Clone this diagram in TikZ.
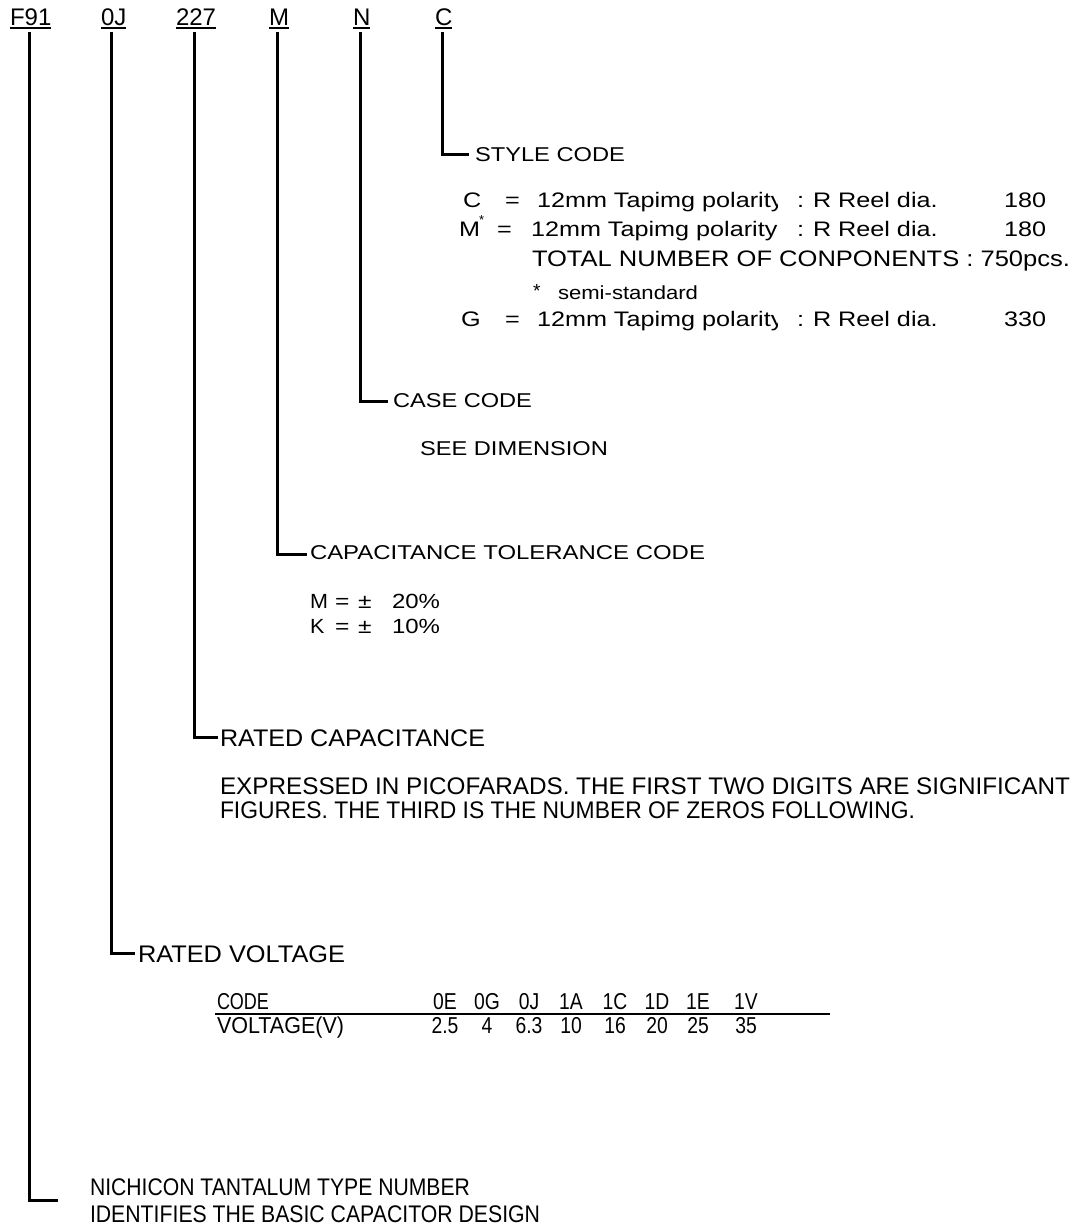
\documentclass[tikz,border=0pt]{standalone}
\usepackage{fontspec}
\setmainfont{Liberation Sans}
\usepackage{graphicx}
\newlength\fitlen
\newcommand\fitx[2]{\settowidth{\fitlen}{#2}\pgfmathsetmacro\fitr{#1/\fitlen}\scalebox{\fitr}[1]{#2}}
\newcommand\sx[1]{\scalebox{1.2}[1]{#1}}
\begin{document}
\begin{tikzpicture}[x=1pt,y=-1pt,
  conn/.style={line width=3pt},
  uline/.style={line width=1.5pt},
  txt/.style={anchor=base west,inner sep=0pt,outer sep=0pt},
  toplab/.style={txt,font=\fontsize{24}{28}\selectfont},
  fa/.style={txt,font=\fontsize{20}{24}\selectfont},
  fm/.style={txt,font=\fontsize{20.5}{24}\selectfont},
  fs/.style={txt,font=\fontsize{19}{23}\selectfont},
  fr/.style={txt,font=\fontsize{21}{25}\selectfont},
  fb/.style={txt,font=\fontsize{24}{28}\selectfont},
  fc/.style={anchor=base,inner sep=0pt,outer sep=0pt,font=\fontsize{23}{27}\selectfont}]
\useasboundingbox[fill=white] (0,0) rectangle (1078,1232);

% top code labels
\node[toplab] (lF) at (10,25) {F91};
\node[toplab] (lJ) at (101,25) {0J};
\node[toplab] (lC) at (176,25) {227};
\node[toplab] (lM) at (269,25) {M};
\node[toplab] (lN) at (353,25) {N};
\node[toplab] (lS) at (435,25) {C};
\foreach \n in {lF,lJ,lC,lM,lN,lS}{
  \draw[uline] ([yshift=-3pt]\n.base west) -- ([yshift=-3pt]\n.base east);
}

% connector ends
\coordinate (eS) at (469,154);
\coordinate (eN) at (388,401);
\coordinate (eM) at (307,554);
\coordinate (eC) at (218,737);
\coordinate (eJ) at (135,953);
\coordinate (eF) at (58,1200);

\draw[conn] ([xshift=-1pt,yshift=-7pt]lS.base) |- (eS);
\draw[conn] ([xshift=-1pt,yshift=-7pt]lN.base) |- (eN);
\draw[conn] ([xshift=-1pt,yshift=-7pt]lM.base) |- (eM);
\draw[conn] ([xshift=-2pt,yshift=-7pt]lC.base) |- (eC);
\draw[conn] ([xshift=-2pt,yshift=-7pt]lJ.base) |- (eJ);
\draw[conn] ([xshift=-1pt,yshift=-7pt]lF.base) |- (eF);

% STYLE CODE
\node[fa] (tS) at (475,161) {\fitx{150}{STYLE CODE}};
% row C
\node[fr] (c1) at (463,207) {\sx{C}};
\node[fr] (c2) at (505,207) {\sx{=}};
\begin{scope}
  \clip (535,180) rectangle (777,216);
  \node[fr] (c3) at (537,207) {\sx{12mm Tapimg polarity}};
\end{scope}
\node[fr] (c4) at (797,207) {\sx{:}};
\node[fr] (c5) at (813,207) {\sx{R Reel dia.}};
\node[fr] (c6) at (1004,207) {\sx{180}};
% row M*
\node[fr] (m1) at (459,236) {\sx{M}};
\node[txt,font=\fontsize{13}{15}\selectfont] (m1s) at (479,224) {*};
\node[fr] (m2) at (497,236) {\sx{=}};
\node[fr] (m3) at (531,236) {\sx{12mm Tapimg polarity}};
\node[fr] (m4) at (797,236) {\sx{:}};
\node[fr] (m5) at (813,236) {\sx{R Reel dia.}};
\node[fr] (m6) at (1004,236) {\sx{180}};
\node[txt,font=\fontsize{22.4}{26}\selectfont] (tot) at (532,266) {\fitx{538}{TOTAL NUMBER OF CONPONENTS : 750pcs.}};
\node[fs] (st1) at (533,297) {*};
\node[fs] (st2) at (558,299) {\fitx{140}{semi-standard}};
% row G
\node[fr] (g1) at (461,326) {\sx{G}};
\node[fr] (g2) at (505,326) {\sx{=}};
\begin{scope}
  \clip (535,299) rectangle (777,335);
  \node[fr] (g3) at (537,326) {\sx{12mm Tapimg polarity}};
\end{scope}
\node[fr] (g4) at (797,326) {\sx{:}};
\node[fr] (g5) at (813,326) {\sx{R Reel dia.}};
\node[fr] (g6) at (1004,326) {\sx{330}};

% CASE CODE
\node[fa] (tN) at (393,407) {\fitx{139}{CASE CODE}};
\node[fa] (tN2) at (420,455) {\fitx{188}{SEE DIMENSION}};

% CAPACITANCE TOLERANCE
\node[fa] (tM) at (310,559) {\fitx{395}{CAPACITANCE TOLERANCE CODE}};
\node[fm] (tM1a) at (310,608) {\scalebox{1.05}[1]{M}};
\node[fm] (tM1b) at (335,608) {\sx{=}};
\node[fm] (tM1c) at (358,608) {\sx{±}};
\node[fm] (tM1d) at (392,608) {\fitx{48}{20\%}};
\node[fm] (tM2a) at (310,633) {\scalebox{1.05}[1]{K}};
\node[fm] (tM2b) at (335,633) {\sx{=}};
\node[fm] (tM2c) at (358,633) {\sx{±}};
\node[fm] (tM2d) at (392,633) {\fitx{48}{10\%}};

% RATED CAPACITANCE
\node[fb] (tC) at (220,746) {\fitx{265}{RATED CAPACITANCE}};
\node[fb] (tC1) at (220,794) {\fitx{850}{EXPRESSED IN PICOFARADS. THE FIRST TWO DIGITS ARE SIGNIFICANT}};
\node[fb] (tC2) at (220,818) {\fitx{695}{FIGURES. THE THIRD IS THE NUMBER OF ZEROS FOLLOWING.}};

% RATED VOLTAGE
\node[fb] (tJ) at (138,962) {\fitx{207}{RATED VOLTAGE}};
\node[fr,font=\fontsize{23}{27}\selectfont] (hd) at (217,1009) {\fitx{52}{CODE}};
\node[fr,font=\fontsize{23}{27}\selectfont] (vl) at (217,1033) {\fitx{127}{VOLTAGE(V)}};
\coordinate (rl) at (215,1014);
\coordinate (rr) at (830,1014);
\draw[line width=2.5pt] (rl) -- (rr);
\foreach \c/\k/\v [count=\i] in {445/0E/2.5,487/0G/4,529/0J/6.3,571/1A/10,615/1C/16,657/1D/20,698/1E/25,746/1V/35}{
  \node[fc] (k\i) at (\c,1009) {\scalebox{0.84}[1]{\k}};
  \node[fc] (v\i) at (\c,1033) {\scalebox{0.84}[1]{\v}};
}

% NICHICON
\node[fb] (tF1) at (90,1195) {\fitx{380}{NICHICON TANTALUM TYPE NUMBER}};
\node[fb] (tF2) at (90,1222) {\fitx{450}{IDENTIFIES THE BASIC CAPACITOR DESIGN}};
\end{tikzpicture}
\end{document}
